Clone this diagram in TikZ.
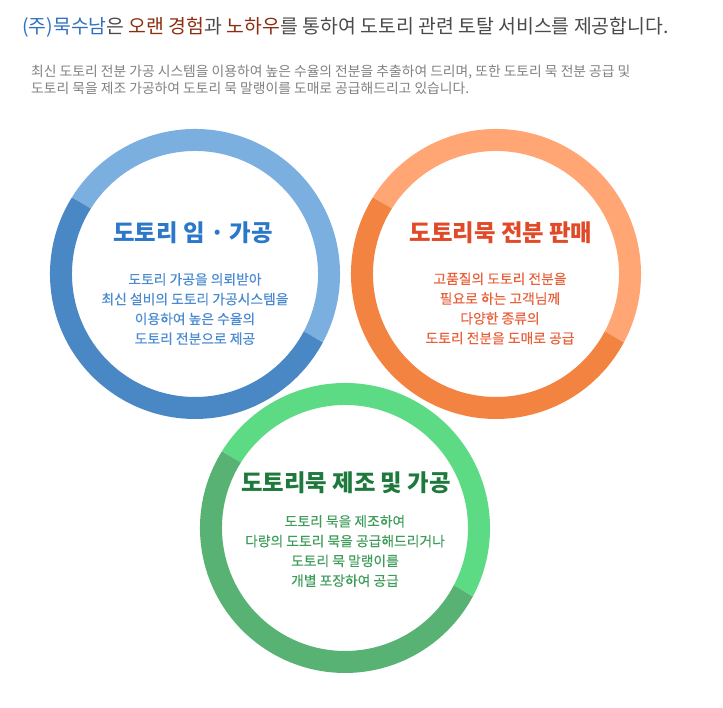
\documentclass[tikz,border=0pt]{standalone}
\usepackage{fontspec}
\setmainfont{Noto Sans CJK KR}
\newfontfamily\krm{Noto Sans CJK KR}[FakeBold=0.4]
\definecolor{bluelight}{HTML}{7BAFDF}
\definecolor{bluedark}{HTML}{4A87C5}
\definecolor{orangelight}{HTML}{FFA674}
\definecolor{orangedark}{HTML}{F28341}
\definecolor{greenlight}{HTML}{5DDB84}
\definecolor{greendark}{HTML}{58B273}
\definecolor{bluetitle}{HTML}{2B78C9}
\definecolor{bluebody}{HTML}{4A8AD0}
\definecolor{orangetitle}{HTML}{E04A28}
\definecolor{orangebody}{HTML}{E8603A}
\definecolor{greentitle}{HTML}{1E7A3C}
\definecolor{greenbody}{HTML}{3E9C5A}
\definecolor{headgray}{HTML}{4A4A4A}
\definecolor{parabrown}{HTML}{8B2E0F}
\definecolor{headblue}{HTML}{2F70C0}
\definecolor{paragray}{HTML}{808080}
\tikzset{
  ring/.style={line width=22pt},
  ctitle/.style={font=\fontsize{23.4}{27}\selectfont\bfseries, inner sep=0pt},
  cbody/.style={font=\krm\fontsize{13.8}{19.8}\selectfont, align=center, inner sep=0pt},
}
\begin{document}
\begin{tikzpicture}[x=1pt,y=1pt]
\useasboundingbox (0,0) rectangle (723,708);
% rings
\coordinate (cb) at (195,434);
\coordinate (co) at (496,434);
\coordinate (cg) at (345,180);
\draw[ring,bluelight] ([shift={(-28:134)}]cb) arc[start angle=-28,end angle=148,radius=134];
\draw[ring,bluedark] ([shift={(148:134)}]cb) arc[start angle=148,end angle=332,radius=134];
\draw[ring,orangelight] ([shift={(-28:134)}]co) arc[start angle=-28,end angle=148,radius=134];
\draw[ring,orangedark] ([shift={(148:134)}]co) arc[start angle=148,end angle=332,radius=134];
\draw[ring,greenlight] ([shift={(-28:134)}]cg) arc[start angle=-28,end angle=148,radius=134];
\draw[ring,greendark] ([shift={(148:134)}]cg) arc[start angle=148,end angle=332,radius=134];
% header
\node[anchor=west, inner sep=0pt, font=\fontsize{19.4}{22}\selectfont, text=headgray] (head) at (22,681)
 {\textcolor{headblue}{(주)묵수남}은 \textcolor{parabrown}{오랜 경험}과 \textcolor{parabrown}{노하우}를 통하여 도토리 관련 토탈 서비스를 제공합니다.};
\node[anchor=west, inner sep=0pt, font=\fontsize{13.8}{17.5}\selectfont, text=paragray, align=left] (para) at (31,628)
 {최신 도토리 전분 가공 시스템을 이용하여 높은 수율의 전분을 추출하여 드리며, 또한 도토리 묵 전분 공급 및\\
 도토리 묵을 제조 가공하여 도토리 묵 말랭이를 도매로 공급해드리고 있습니다.};
% blue
\node[ctitle, text=bluetitle] (bt) at (193,475) {도토리 임 · 가공};
\node[cbody, text=bluebody] (bb) at (195,399) {도토리 가공을 의뢰받아\\최신 설비의 도토리 가공시스템을\\이용하여 높은 수율의\\도토리 전분으로 제공};
% orange
\node[ctitle, text=orangetitle] (ot) at (501,475) {도토리묵 전분 판매};
\node[cbody, text=orangebody] (ob) at (500,399.5) {고품질의 도토리 전분을\\필요로 하는 고객님께\\다양한 종류의\\도토리 전분을 도매로 공급};
% green
\node[ctitle, text=greentitle] (gt) at (346,225) {도토리묵 제조 및 가공};
\node[cbody, text=greenbody] (gb) at (345,157) {도토리 묵을 제조하여\\다량의 도토리 묵을 공급해드리거나\\도토리 묵 말랭이를\\개별 포장하여 공급};
\end{tikzpicture}
\end{document}
